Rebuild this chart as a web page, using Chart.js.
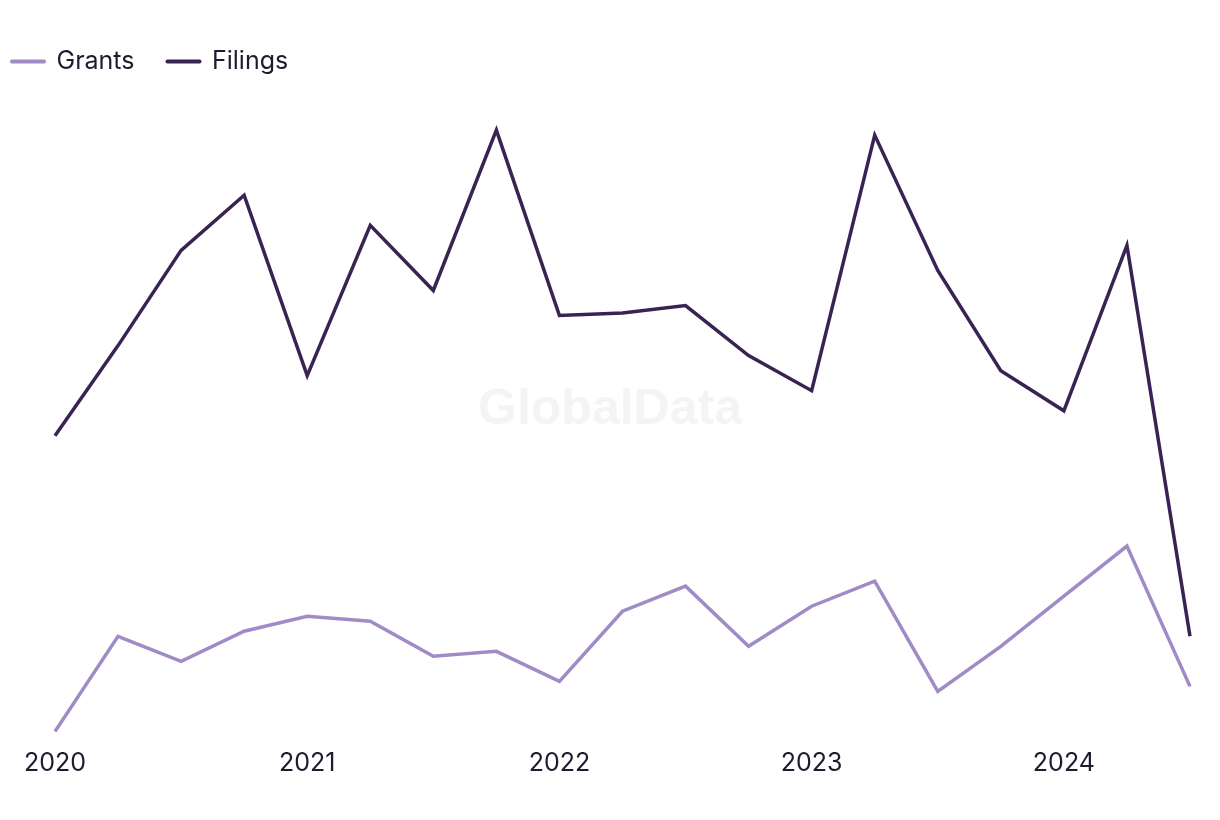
<!DOCTYPE html>
<html>
<head>
<meta charset="utf-8">
<script src="https://cdn.jsdelivr.net/npm/chart.js@4.4.1/dist/chart.umd.min.js"></script>
<style>
  html, body { margin: 0; padding: 0; background: #ffffff; }
  #wrap { width: 1220px; height: 820px; position: relative; }
</style>
</head>
<body>
<div id="wrap"><canvas id="c"></canvas></div>
<script>
const quarters = ['Q1 2020','Q2 2020','Q3 2020','Q4 2020','Q1 2021','Q2 2021','Q3 2021','Q4 2021','Q1 2022','Q2 2022','Q3 2022','Q4 2022','Q1 2023','Q2 2023','Q3 2023','Q4 2023','Q1 2024','Q2 2024','Q3 2024'];
const tickLabels = ['2020','2021','2022','2023','2024'];
const grants  = [6, 25, 20, 26, 29, 28, 21, 22, 16, 30, 35, 23, 31, 36, 14, 23, 33, 43, 15];
const filings = [65, 83, 102, 113, 77, 107, 94, 126, 89, 89.5, 91, 81, 74, 125, 98, 78, 70, 103, 25];

const TEXT = '#1c1c30';
const FONT = 'Inter, "Liberation Sans", sans-serif';
const toPts = arr => arr.map((v, i) => ({ x: i, y: v }));

const watermark = {
  id: 'watermark',
  beforeDatasetsDraw(chart) {
    const { ctx } = chart;
    ctx.save();
    ctx.font = 'bold 50px "Liberation Sans", Arial, sans-serif';
    ctx.fillStyle = '#f4f4f4';
    ctx.textAlign = 'center';
    ctx.textBaseline = 'middle';
    ctx.fillText('GlobalData', 610, 410);
    ctx.restore();
  }
};

const legendShift = {
  id: 'legendShift',
  afterLayout(chart) {
    if (chart.legend) chart.legend.left = -21;
  }
};

new Chart(document.getElementById('c'), {
  type: 'line',
  data: {
    datasets: [
      { label: 'Grants', data: toPts(grants), borderColor: '#a08bc6', backgroundColor: '#a08bc6', borderWidth: 3.5, pointRadius: 0, tension: 0 },
      { label: 'Filings', data: toPts(filings), borderColor: '#392352', backgroundColor: '#392352', borderWidth: 3.5, pointRadius: 0, tension: 0 }
    ]
  },
  options: {
    responsive: true,
    maintainAspectRatio: false,
    animation: false,
    layout: { padding: { left: 0, right: 0, top: 16, bottom: 34 } },
    plugins: {
      tooltip: { enabled: false },
      legend: {
        display: true,
        position: 'top',
        align: 'start',
        labels: {
          color: TEXT,
          font: { family: FONT, size: 25 },
          usePointStyle: true,
          pointStyle: 'line',
          pointStyleWidth: 32,
          boxHeight: 20,
          padding: 33,
          generateLabels(chart) {
            return chart.data.datasets.map((ds, i) => ({
              text: ds.label,
              fillStyle: ds.borderColor,
              strokeStyle: ds.borderColor,
              lineWidth: 4,
              lineCap: 'round',
              pointStyle: 'line',
              fontColor: TEXT,
              datasetIndex: i,
              hidden: false
            }));
          }
        }
      }
    },
    scales: {
      x: {
        type: 'linear',
        min: -0.872,
        max: 18.476,
        grid: { display: false },
        border: { display: false },
        afterBuildTicks(axis) {
          axis.ticks = tickLabels.map((t, i) => ({ value: i * 4 }));
        },
        ticks: {
          color: TEXT,
          font: { family: FONT, size: 25 },
          padding: 8,
          maxRotation: 0,
          autoSkip: false,
          callback(value) { return tickLabels[Math.round(value / 4)]; }
        }
      },
      y: {
        display: false,
        min: 5.9,
        max: 135.2
      }
    }
  },
  plugins: [watermark, legendShift]
});
</script>
</body>
</html>
